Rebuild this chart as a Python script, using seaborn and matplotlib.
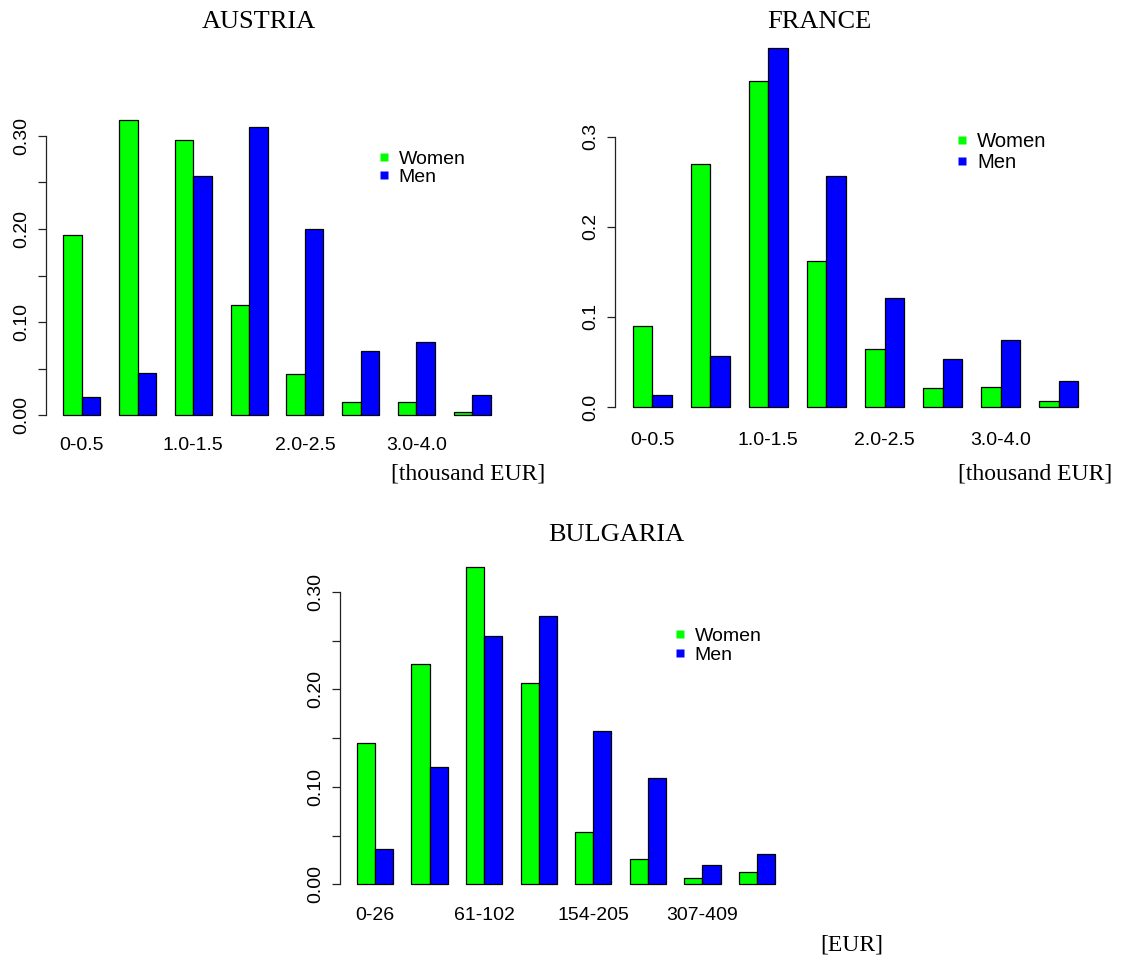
import numpy as np
import pandas as pd
import matplotlib
matplotlib.use("Agg")
import matplotlib.pyplot as plt
from matplotlib.lines import Line2D
import seaborn as sns

# ---------------- data ----------------
austria_bins = ["0-0.5", "0.5-1.0", "1.0-1.5", "1.5-2.0", "2.0-2.5", "2.5-3.0", "3.0-4.0", ">4.0"]
austria_women = [0.194, 0.317, 0.296, 0.118, 0.044, 0.014, 0.014, 0.003]
austria_men = [0.019, 0.045, 0.257, 0.310, 0.200, 0.069, 0.078, 0.022]

france_bins = ["0-0.5", "0.5-1.0", "1.0-1.5", "1.5-2.0", "2.0-2.5", "2.5-3.0", "3.0-4.0", ">4.0"]
france_women = [0.090, 0.270, 0.362, 0.162, 0.064, 0.021, 0.022, 0.007]
france_men = [0.013, 0.057, 0.398, 0.256, 0.121, 0.053, 0.074, 0.029]

bulgaria_bins = ["0-26", "26-61", "61-102", "102-154", "154-205", "205-307", "307-409", ">409"]
bulgaria_women = [0.145, 0.226, 0.326, 0.207, 0.054, 0.026, 0.006, 0.013]
bulgaria_men = [0.036, 0.120, 0.255, 0.275, 0.157, 0.109, 0.020, 0.031]

series_names = ["Women", "Men"]
series_colors = {"Women": "#00FF00", "Men": "#0000FF"}

titles = ["AUSTRIA", "FRANCE", "BULGARIA"]
unit_labels = ["[thousand EUR]", "[thousand EUR]", "[EUR]"]

# ---------------- style ----------------
sns.set_theme(style="white")
plt.rcParams["font.family"] = ["Liberation Sans", "DejaVu Sans"]
plt.rcParams["text.color"] = "black"
plt.rcParams["xtick.color"] = "black"
plt.rcParams["ytick.color"] = "black"

W, H = 1136, 960
fig = plt.figure(figsize=(W / 100, H / 100), dpi=100)


def axes_px(left, right, top, bottom):
    return fig.add_axes([left / W, 1 - bottom / H, (right - left) / W, (bottom - top) / H])


panels = [
    dict(bins=austria_bins, women=austria_women, men=austria_men,
         box=(46, 508, 32, 430), ylim=(-0.0161, 0.4118),
         yticks=np.arange(0, 0.301, 0.05), ylabels=["0.00", "", "0.10", "", "0.20", "", "0.30"],
         title_xy=(259, 22), unit_xy=(468, 474),
         leg_xy=(378, 150), leg_fs=14.0, leg_sp=0.02),
    dict(bins=france_bins, women=france_women, men=france_men,
         box=(615, 1096, 32, 425), ylim=(-0.0200, 0.4162),
         yticks=np.arange(0, 0.301, 0.1), ylabels=["0.0", "0.1", "0.2", "0.3"],
         title_xy=(819, 22), unit_xy=(1035, 474),
         leg_xy=(956, 132), leg_fs=14.6, leg_sp=0.12),
    dict(bins=bulgaria_bins, women=bulgaria_women, men=bulgaria_men,
         box=(340, 792, 554, 900), ylim=(-0.0161, 0.3391),
         yticks=np.arange(0, 0.301, 0.05), ylabels=["0.00", "", "0.10", "", "0.20", "", "0.30"],
         title_xy=(616, 535), unit_xy=(852, 945),
         leg_xy=(674, 627), leg_fs=14.0, leg_sp=0.08),
]

for p, title, unit in zip(panels, titles, unit_labels):
    ax = axes_px(*p["box"])
    df = pd.DataFrame({
        "bin": p["bins"] * 2,
        "sex": ["Women"] * len(p["bins"]) + ["Men"] * len(p["bins"]),
        "share": list(p["women"]) + list(p["men"]),
    })
    sns.barplot(data=df, x="bin", y="share", hue="sex", order=p["bins"],
                hue_order=series_names, palette=series_colors, width=2 / 3,
                gap=0, edgecolor="black", linewidth=0.9, saturation=1,
                ax=ax, legend=False)
    ax.set_xlim(-0.64, len(p["bins"]) - 1 + 0.64)
    ax.set_ylim(*p["ylim"])
    ax.set_xlabel("")
    ax.set_ylabel("")
    for s in ["top", "right", "bottom"]:
        ax.spines[s].set_visible(False)
    ax.spines["left"].set_bounds(0, 0.3)
    ax.spines["left"].set_color("#222222")
    ax.spines["left"].set_linewidth(0.9)
    ax.set_yticks(p["yticks"])
    ax.set_yticklabels(p["ylabels"], rotation=90, va="center", fontsize=14)
    ax.tick_params(axis="y", which="both", left=True, length=6, width=0.9,
                   color="#222222", pad=5, labelcolor="black")
    shown = list(range(0, len(p["bins"]), 2))
    ax.set_xticks(shown)
    ax.set_xticklabels([p["bins"][i] for i in shown], fontsize=14, color="black")
    ax.tick_params(axis="x", length=0, pad=5)
    ax.set_facecolor("white")

    fig.text(p["title_xy"][0] / W, 1 - p["title_xy"][1] / H, title,
             family=["Liberation Serif", "DejaVu Serif"], fontsize=19,
             ha="center", va="center", color="black")
    fig.text(p["unit_xy"][0] / W, 1 - p["unit_xy"][1] / H, unit,
             family=["Liberation Serif", "DejaVu Serif"], fontsize=17,
             ha="center", va="center", color="black")

    handles = [Line2D([], [], linestyle="none", marker="s", markersize=5.5,
                      markerfacecolor=series_colors[n], markeredgecolor="none")
               for n in series_names]
    leg = ax.legend(handles, series_names, loc="upper left",
                    bbox_to_anchor=(p["leg_xy"][0] / W, 1 - p["leg_xy"][1] / H),
                    bbox_transform=fig.transFigure, frameon=False,
                    fontsize=p["leg_fs"], handlelength=0.6, handletextpad=0.45,
                    labelspacing=p["leg_sp"], borderpad=0, borderaxespad=0)
    for t in leg.get_texts():
        t.set_color("black")

fig.savefig("out.png", dpi=100, facecolor="white")
